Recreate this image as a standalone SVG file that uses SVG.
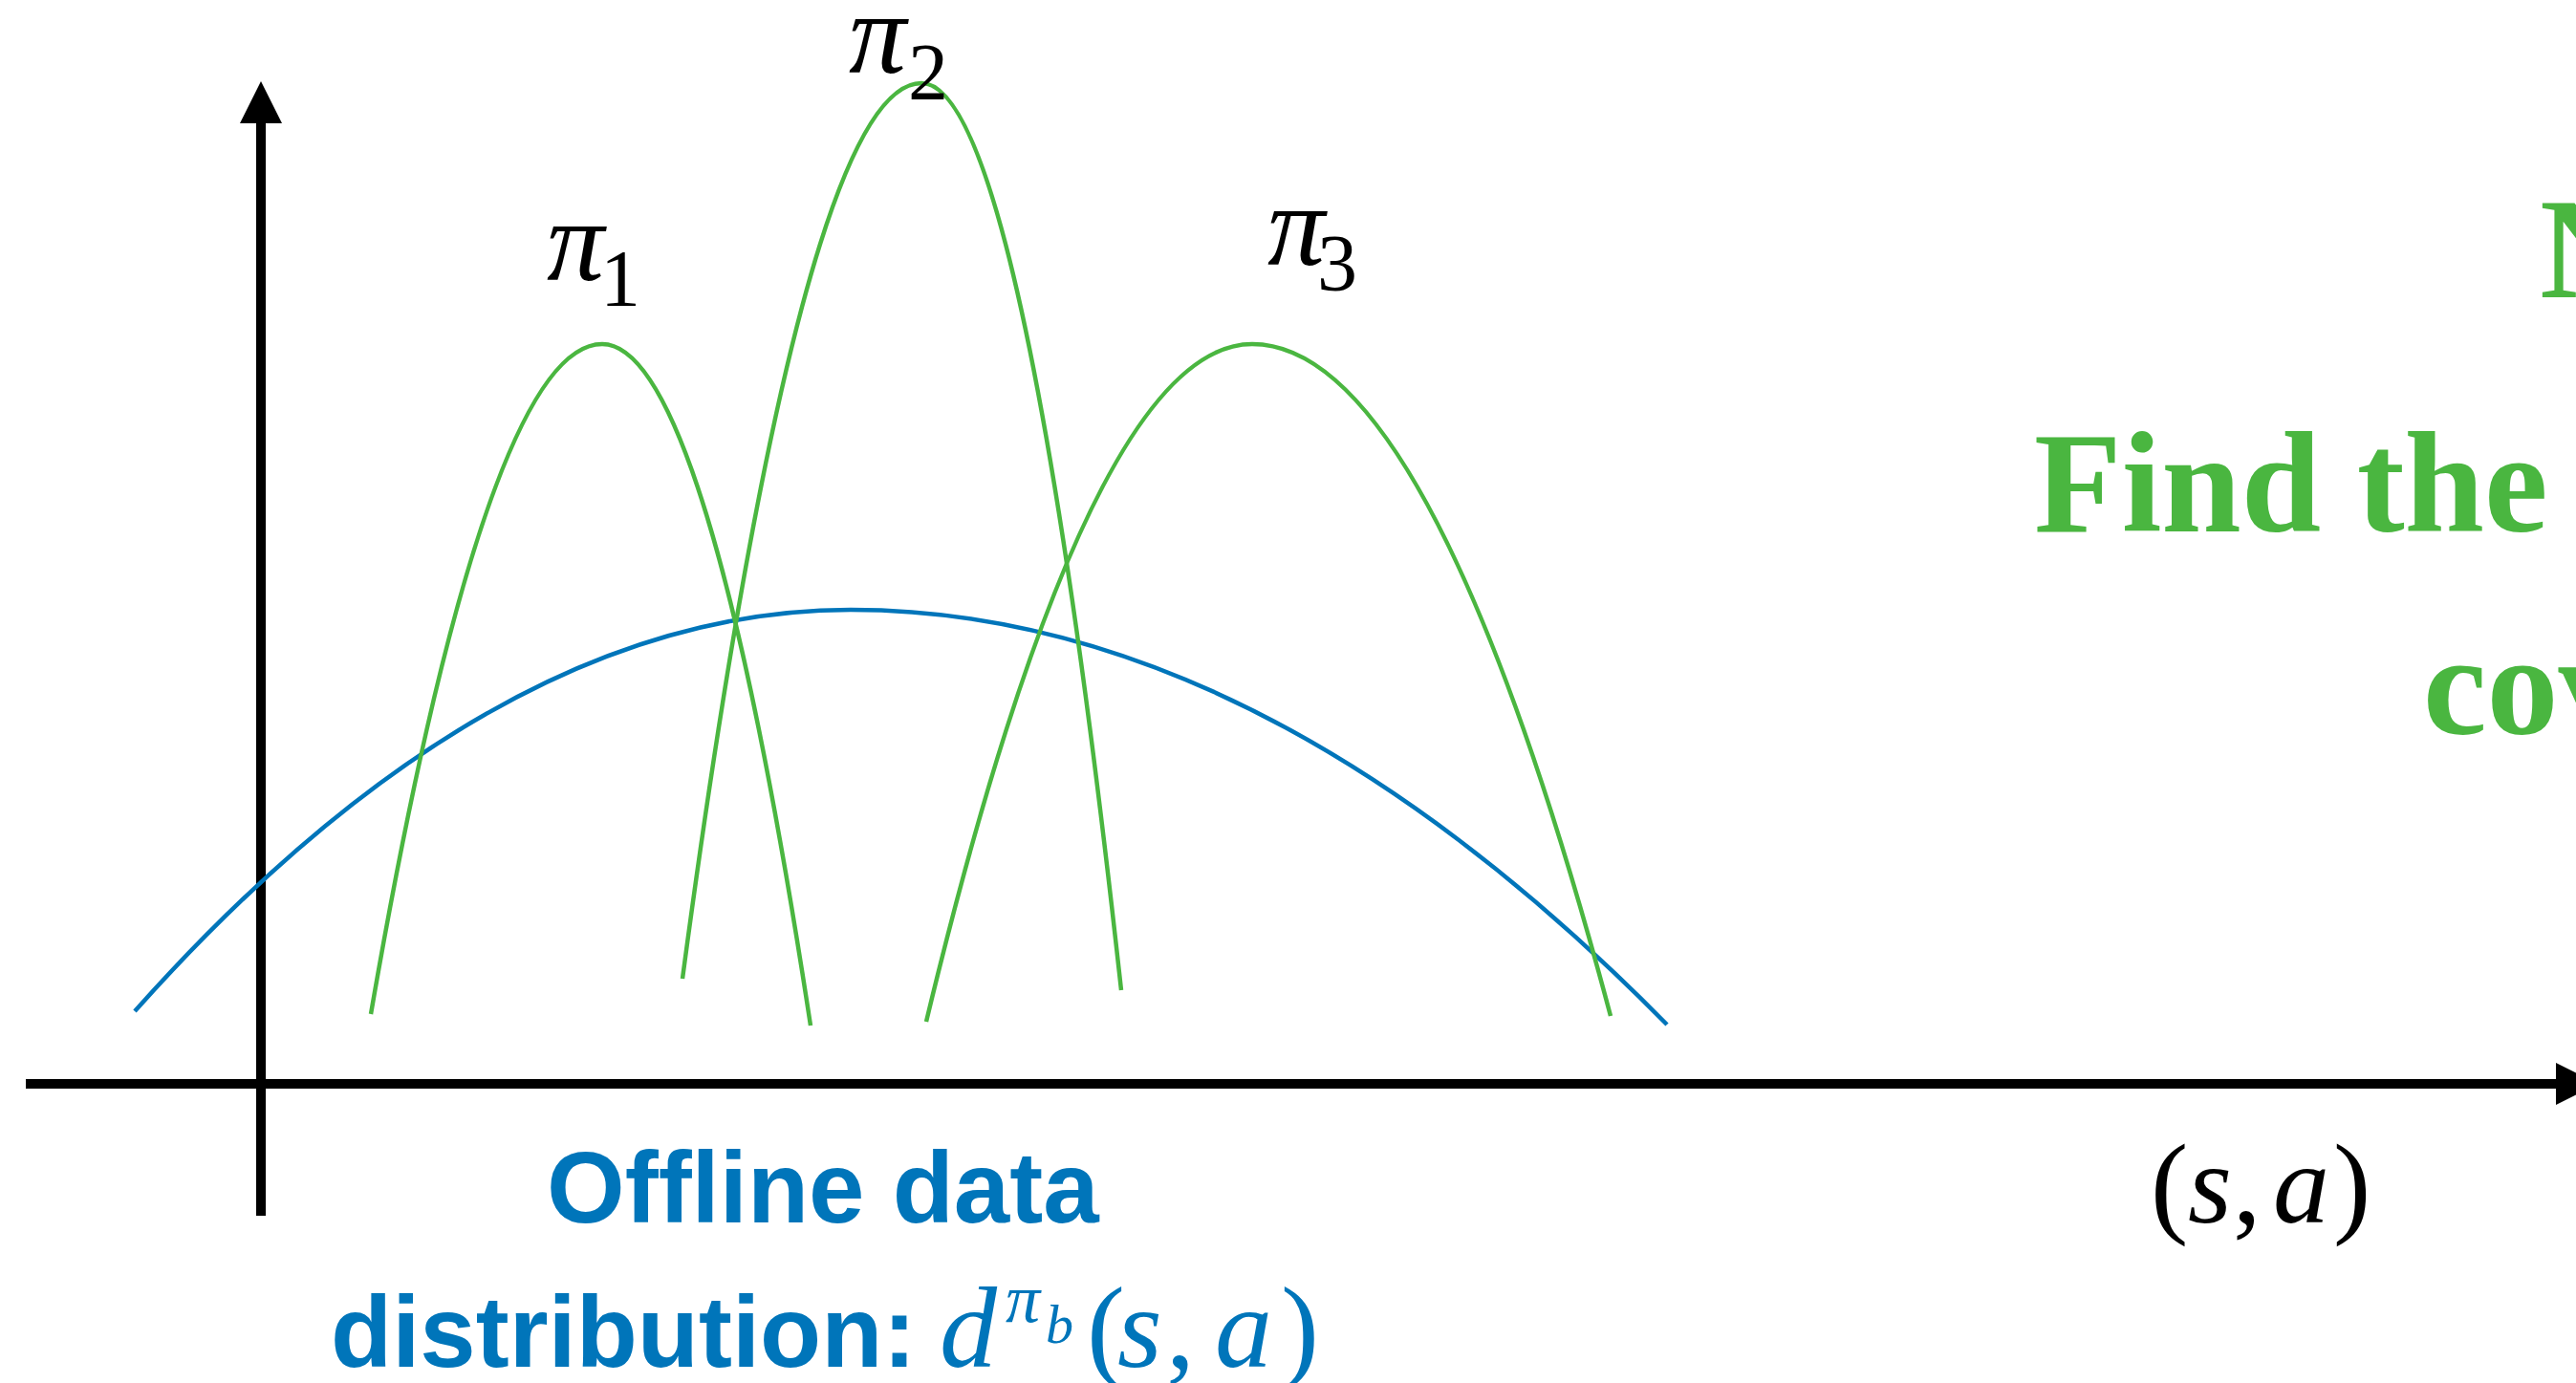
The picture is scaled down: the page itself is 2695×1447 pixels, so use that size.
<svg xmlns="http://www.w3.org/2000/svg" width="2695" height="1447" viewBox="0 0 2695 1447">
  <style>
    .bg { fill: #ffffff; }
    .axis { stroke: #000000; stroke-width: 10; fill: none; }
    .head { fill: #000000; }
    .pol { stroke: #4AB640; stroke-width: 4.5; fill: none; }
    .data { stroke: #0075BA; stroke-width: 4.5; fill: none; }
    .math { font-family: "Liberation Serif", "Times New Roman", serif; }
    .it { font-style: italic; }
    .green { font-family: "Liberation Serif", "Times New Roman", serif; font-weight: bold; font-size: 150px; fill: #4AB640; }
    .blue { font-family: "Liberation Sans", Arial, sans-serif; font-weight: bold; font-size: 105px; fill: #0075BA; }
  </style>
  <rect class="bg" x="0" y="0" width="2695" height="1447"/>

  <g id="axes">
    <line class="axis" x1="27" y1="1134" x2="2676" y2="1134"/>
    <polygon class="head" points="2674,1112 2718,1134 2674,1156"/>
    <line class="axis" x1="273" y1="1272" x2="273" y2="127"/>
    <polygon class="head" points="251,129 273,85 295,129"/>
  </g>

  <g id="curves">
    <path id="data-dist" class="data" d="M141,1058 Q515.5,638 890,638 Q1317,638 1744,1072"/>
    <path id="pi1-curve" class="pol" d="M388,1061 Q509,360 630,360 Q739,360 848,1073"/>
    <path id="pi2-curve" class="pol" d="M714,1024 Q839,87 964,87 Q1068.5,87 1173,1036"/>
    <path id="pi3-curve" class="pol" d="M969,1069 Q1139.5,360 1310,360 Q1497.5,360 1685,1063"/>
  </g>

  <g id="label-pi1" class="math">
    <text x="572" y="293" font-size="120" class="it">π</text>
    <text x="628" y="320" font-size="84">1</text>
  </g>
  <g id="label-pi2" class="math">
    <text x="888" y="76" font-size="120" class="it">π</text>
    <text x="950" y="104" font-size="84">2</text>
  </g>
  <g id="label-pi3" class="math">
    <text x="1326" y="277" font-size="120" class="it">π</text>
    <text x="1378" y="304" font-size="84">3</text>
  </g>

  <g id="label-sa" class="math" font-size="118">
    <text x="2250" y="1279">(</text>
    <text x="2289" y="1279" class="it">s</text>
    <text x="2336" y="1279">,</text>
    <text x="2378" y="1279" class="it">a</text>
    <text x="2441" y="1279">)</text>
  </g>

  <g id="label-offline">
    <text class="blue" x="572" y="1279">Offline data</text>
    <text class="blue" x="346" y="1430">distribution:</text>
    <g class="math" fill="#0075BA">
      <text x="983" y="1430" font-size="120" class="it">d</text>
      <text x="1052" y="1383" font-size="72" class="it">π</text>
      <text x="1094" y="1405" font-size="58" class="it">b</text>
      <text x="1137" y="1430" font-size="120">(</text>
      <text x="1169" y="1430" font-size="120" class="it">s</text>
      <text x="1220" y="1430" font-size="120">,</text>
      <text x="1271" y="1430" font-size="120" class="it">a</text>
      <text x="1340" y="1430" font-size="120">)</text>
    </g>
  </g>

  <g id="label-green">
    <text class="green" x="2657" y="311">N</text>
    <text class="green" x="2128" y="556">Find the</text>
    <text class="green" x="2535" y="768">cov</text>
  </g>
</svg>
